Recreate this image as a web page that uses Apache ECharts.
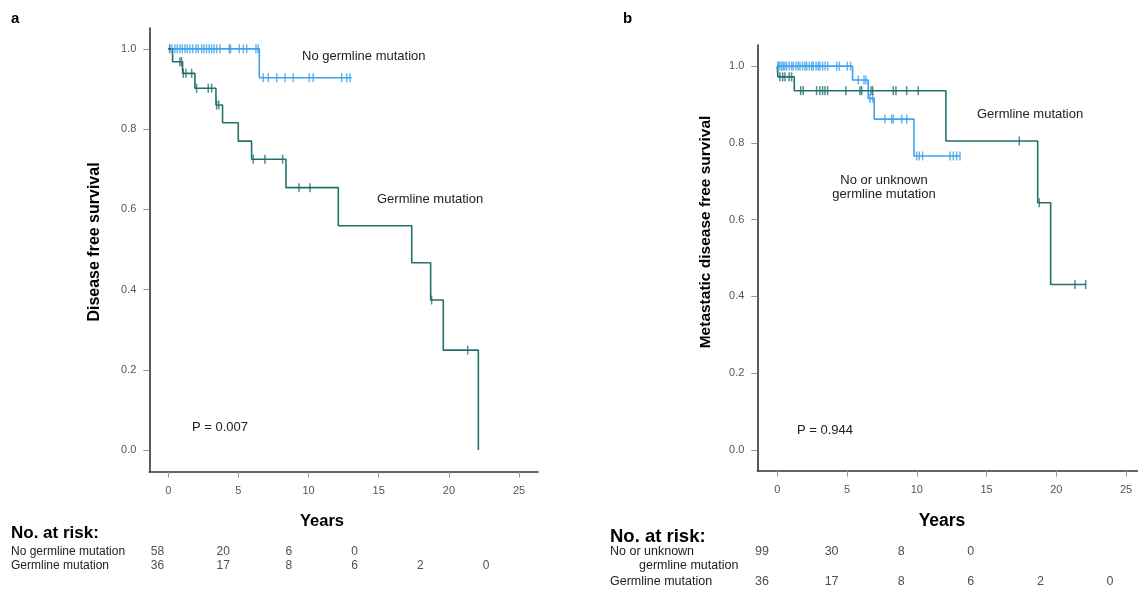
<!DOCTYPE html>
<html><head><meta charset="utf-8">
<script src="https://cdn.jsdelivr.net/npm/echarts@6/dist/echarts.min.js"></script>
<style>html,body{margin:0;padding:0;background:#fff}#c{width:1138px;height:590px}</style>
</head><body><div id="c"></div>
<script>
// ---------- DATA ----------
const xTicks = [0, 5, 10, 15, 20, 25];
const yTicks = [0, 0.2, 0.4, 0.6, 0.8, 1.0];

// Panel a: Disease free survival
const aNoneTime = [0, 6.49, 13.07];
const aNoneSurv = [1.0, 0.928, 0.928];
const aNoneCens = [0.25, 0.48, 0.64, 0.83, 1.0, 1.19, 1.35, 1.55, 1.74, 1.97, 2.14, 2.38, 2.54, 2.73, 2.92, 3.09, 3.26, 3.45, 3.68, 4.35, 4.44, 5.06, 5.35, 5.59, 6.25, 6.41,
                   6.77, 7.13, 7.73, 8.32, 8.91, 10.05, 10.33, 12.36, 12.72, 12.95];
const aGermTime = [0, 0.31, 1.02, 1.90, 3.40, 3.87, 4.99, 5.94, 8.39, 12.12, 17.35, 18.70, 19.60, 22.10, 22.10];
const aGermSurv = [1.0, 0.968, 0.939, 0.902, 0.860, 0.816, 0.770, 0.725, 0.654, 0.559, 0.467, 0.374, 0.249, 0.0, 0.0];
const aGermCens = [0.1, 0.83, 0.95, 1.07, 1.26, 1.67, 2.02, 2.85, 3.09, 3.45, 3.6, 6.06, 6.89, 8.15, 9.32, 10.1, 18.77, 21.34];

// Panel b: Metastatic disease free survival
const bNoneTime = [0, 5.40, 6.52, 6.95, 9.80, 13.10];
const bNoneSurv = [1.0, 0.964, 0.916, 0.862, 0.766, 0.766];
const bNoneCens = [0.05, 0.07, 0.19, 0.32, 0.43, 0.55, 0.67, 0.86, 1.03, 1.15, 1.34, 1.5, 1.63, 1.82, 1.99, 2.11, 2.3, 2.47, 2.58, 2.78, 2.94, 3.06, 3.25, 3.43, 3.62, 4.26, 4.45, 5.02, 5.26,
                   5.81, 6.22, 6.36, 6.65, 6.85, 7.72, 8.2, 8.32, 8.92, 9.28, 9.99, 10.18, 10.42, 12.38, 12.62, 12.86, 13.1];
const bGermTime = [0, 0.05, 1.22, 12.09, 18.67, 19.60, 22.11];
const bGermSurv = [1.0, 0.972, 0.936, 0.805, 0.644, 0.431, 0.431];
const bGermCens = [0.19, 0.39, 0.55, 0.86, 1.03, 1.68, 1.86, 2.82, 3.06, 3.25, 3.42, 3.61, 4.92, 5.93, 6.05, 6.72, 6.84, 8.32, 8.51, 9.28, 10.11, 17.35, 18.78, 21.34, 22.11];

// Numbers at risk (at 0,5,10,15,20,25 years)
const riskYears = [0, 5, 10, 15, 20, 25];
const riskANone = [58, 20, 6, 0];
const riskAGerm = [36, 17, 8, 6, 2, 0];
const riskBNone = [99, 30, 8, 0];
const riskBGerm = [36, 17, 8, 6, 2, 0];

// ---------- STYLE ----------
const BLUE = '#3ea2ec';
const TEAL = '#22716d';
const FONT = 'Arial, "Liberation Sans", sans-serif';

function survAt(times, surv, t) {
  let v = surv[0];
  for (let i = 0; i < times.length; i++) { if (times[i] <= t) v = surv[i]; }
  return v;
}
const pairs = (xs, ys) => xs.map((x, i) => [x, ys[i]]);
const cens = (cs, times, surv) => cs.map(t => [t, survAt(times, surv, t)]);

function xAx(gi, min, max) {
  return {
    type: 'value', gridIndex: gi, min, max,
    axisLine: { show: true, onZero: false, lineStyle: { color: '#333', width: 1.6 } },
    axisTick: { show: true, length: 6, customValues: xTicks, lineStyle: { color: '#999' } },
    axisLabel: { customValues: xTicks, color: '#555', fontSize: 11, fontFamily: FONT, margin: 14 },
    splitLine: { show: false }
  };
}
function yAx(gi, min, max) {
  return {
    type: 'value', gridIndex: gi, min, max,
    axisLine: { show: true, onZero: false, lineStyle: { color: '#333', width: 1.6 } },
    axisTick: { show: true, length: 6, customValues: yTicks, lineStyle: { color: '#999' } },
    axisLabel: { customValues: yTicks, color: '#555', fontSize: 11, fontFamily: FONT, margin: 13,
                 formatter: v => v.toFixed(1) },
    splitLine: { show: false }
  };
}
function hiddenAx(gi, min, max, inverse) {
  return { type: 'value', gridIndex: gi, min, max, inverse: !!inverse, show: false, splitLine: { show: false } };
}
function km(gi, data, color) {
  return { type: 'line', xAxisIndex: gi, yAxisIndex: gi, step: 'end', data, symbol: 'none',
           lineStyle: { color, width: 1.6 }, silent: true, z: 2 };
}
function censor(gi, data, color) {
  return { type: 'scatter', xAxisIndex: gi, yAxisIndex: gi, data, symbol: 'rect', symbolSize: [1.5, 9],
           itemStyle: { color }, silent: true, z: 3 };
}
function riskRow(gi, vals, row, size) {
  return { type: 'scatter', xAxisIndex: gi, yAxisIndex: gi, symbolSize: 0,
           data: vals.map((v, i) => ({ value: [riskYears[i], row], label: { formatter: String(v) } })),
           label: { show: true, position: 'inside', color: '#222', fontSize: size, fontFamily: FONT }, silent: true };
}
function txt(text, x, y, size, opts) {
  opts = opts || {};
  return { type: 'text', x, y, rotation: opts.rot || 0, silent: true,
           style: { text, font: (opts.bold ? 'bold ' : '') + size + 'px ' + FONT, fill: opts.fill || '#222',
                    textAlign: opts.align || 'left', textVerticalAlign: 'middle', lineHeight: opts.lh } };
}

const option = {
  backgroundColor: '#fff',
  animation: false,
  grid: [
    { left: 149.3, top: 28, width: 388.7, height: 443.7 },
    { left: 757.3, top: 45, width: 380.7, height: 425.7 },
    { left: 157.5, top: 551.5, width: 328.5, height: 14.5 },
    { left: 762, top: 551.7, width: 348, height: 30 }
  ],
  xAxis: [xAx(0, -1.35, 26.35), xAx(1, -1.43, 25.86), hiddenAx(2, 0, 25), hiddenAx(3, 0, 25)],
  yAxis: [yAx(0, -0.054, 1.052), yAx(1, -0.054, 1.055), hiddenAx(2, 0, 1, true), hiddenAx(3, 0, 1, true)],
  series: [
    km(0, pairs(aNoneTime, aNoneSurv), BLUE),
    km(0, pairs(aGermTime, aGermSurv), TEAL),
    censor(0, cens(aNoneCens, aNoneTime, aNoneSurv), BLUE),
    censor(0, cens(aGermCens, aGermTime, aGermSurv), TEAL),
    km(1, pairs(bNoneTime, bNoneSurv), BLUE),
    km(1, pairs(bGermTime, bGermSurv), TEAL),
    censor(1, cens(bNoneCens, bNoneTime, bNoneSurv), BLUE),
    censor(1, cens(bGermCens, bGermTime, bGermSurv), TEAL),
    riskRow(2, riskANone, 0, 12),
    riskRow(2, riskAGerm, 1, 12),
    riskRow(3, riskBNone, 0, 12.5),
    riskRow(3, riskBGerm, 1, 12.5)
  ],
  graphic: [
    txt('a', 11, 19, 15, { bold: true, fill: '#000' }),
    txt('b', 623, 19, 15, { bold: true, fill: '#000' }),
    txt('Disease free survival', 95, 242, 16, { bold: true, fill: '#000', rot: Math.PI / 2, align: 'center' }),
    txt('Metastatic disease free survival', 706, 232, 15.5, { bold: true, fill: '#000', rot: Math.PI / 2, align: 'center' }),
    txt('No germline mutation', 302, 56, 13),
    txt('Germline mutation', 377, 199, 13),
    txt('P = 0.007', 192, 427, 13),
    txt('Germline mutation', 977, 114, 13),
    txt('No or unknown\ngermline mutation', 884, 187, 13, { align: 'center', lh: 14 }),
    txt('P = 0.944', 797, 430, 13),
    txt('Years', 322, 521, 16.5, { bold: true, fill: '#000', align: 'center' }),
    txt('Years', 942, 521, 17.5, { bold: true, fill: '#000', align: 'center' }),
    txt('No. at risk:', 11, 533, 17, { bold: true, fill: '#000' }),
    txt('No germline mutation', 11, 551.5, 12),
    txt('Germline mutation', 11, 566, 12),
    txt('No. at risk:', 610, 537, 18.5, { bold: true, fill: '#000' }),
    txt('No or unknown', 610, 552, 12.5),
    txt('germline mutation', 639, 565.5, 12.5),
    txt('Germline mutation', 610, 582, 12.5)
  ]
};
const chart = echarts.init(document.getElementById('c'), null, { renderer: 'canvas' });
chart.setOption(option);
</script></body></html>
